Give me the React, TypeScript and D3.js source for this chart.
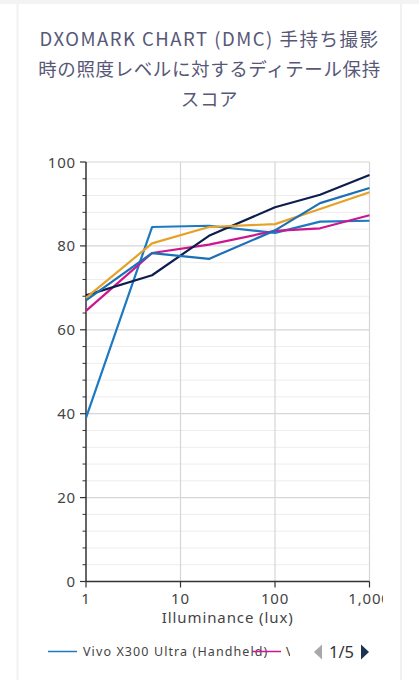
import * as d3 from "d3";

// illuminance steps (lux) and detail scores
const illuminance = [1, 5, 20, 100, 300, 1000];
// only the first legend entry is readable; the second one is cut to its first letter
const legendLabels = ["Vivo X300 Ultra (Handheld)", "V"];
const seriesColors = ["#1d79c1", "#cc1690", "#0d1d4e", "#e6a128", "#1a70b6"];
const scoresA = [39.0, 84.5, 84.8, 83.1, 85.8, 86.0];
const scoresB = [64.5, 78.3, 80.3, 83.6, 84.2, 87.3];
const scoresC = [68.2, 73.0, 82.4, 89.2, 92.2, 96.9];
const scoresD = [67.6, 80.6, 84.5, 85.2, 88.8, 92.8];
const scoresE = [67.0, 78.3, 76.9, 83.7, 90.2, 93.8];
const allScores = [scoresA, scoresB, scoresC, scoresD, scoresE];

const yTicks = [0, 20, 40, 60, 80, 100];
const xTicks = [1, 10, 100, 1000];
const titleLines = [
  "DXOMARK CHART (DMC) 手持ち撮影",
  "時の照度レベルに対するディテール保持",
  "スコア",
];

const W = 419;
const H = 680;
const plot = { left: 86, right: 369.5, top: 162, bottom: 581.5 };

export default function App() {
  const x = d3.scaleLog().domain([1, 1000]).range([plot.left, plot.right]);
  const y = d3.scaleLinear().domain([0, 100]).range([plot.bottom, plot.top]);
  const minor = d3.range(0, 101, 4).filter((v) => v % 20 !== 0);
  const line = d3
    .line<number>()
    .x((_, i) => x(illuminance[i]))
    .y((d) => y(d));
  const tickFont = "'Noto Sans', 'DejaVu Sans', sans-serif";

  return (
    <div style={{ position: "fixed", left: 0, top: 0, width: W, height: H, background: "#fff" }}>
      <svg width={W} height={H} style={{ display: "block" }}>
        <defs>
          <clipPath id="chartClip">
            <rect x={0} y={0} width={383} height={H} />
          </clipPath>
          <clipPath id="legendClip">
            <rect x={0} y={630} width={290} height={40} />
          </clipPath>
        </defs>
        {/* card */}
        <rect x={0} y={0} width={W} height={4} fill="#f3f3f3" />
        <rect x={16.5} y={4} width={2} height={H} fill="#f1f1f1" />
        <rect x={400} y={4} width={2} height={H} fill="#f1f1f1" />

        {titleLines.map((t, i) => (
          <text
            key={i}
            x={209.5}
            y={45.5 + i * 30}
            textAnchor="middle"
            fontSize={18.5}
            letterSpacing={i === 0 ? 1.5 : 0.6}
            fill="#575877"
            fontFamily="'Noto Sans CJK JP', 'Noto Sans', sans-serif"
          >
            {t}
          </text>
        ))}

        <g clipPath="url(#chartClip)">
          {minor.map((v) => (
            <g key={"m" + v}>
              <line x1={plot.left} x2={plot.right} y1={y(v)} y2={y(v)} stroke="#ededed" strokeWidth={1} />
              <line x1={plot.left - 3.5} x2={plot.left} y1={y(v)} y2={y(v)} stroke="#333" strokeWidth={1} />
            </g>
          ))}
          {yTicks.map((v) => (
            <g key={"y" + v}>
              {v > 0 && (
                <line x1={plot.left} x2={plot.right} y1={y(v)} y2={y(v)} stroke="#d6d6d6" strokeWidth={1.2} />
              )}
              <line x1={plot.left - 6} x2={plot.left} y1={y(v)} y2={y(v)} stroke="#333" strokeWidth={1.2} />
              <text
                x={plot.left - 10}
                y={y(v) + 5.5}
                textAnchor="end"
                fontSize={15}
                letterSpacing={0.8}
                fill="#444"
                fontFamily={tickFont}
              >
                {v}
              </text>
            </g>
          ))}
          {xTicks.map((v) => (
            <g key={"x" + v}>
              {v > 1 && (
                <line x1={x(v)} x2={x(v)} y1={plot.top} y2={plot.bottom} stroke="#d6d6d6" strokeWidth={1.2} />
              )}
              <line x1={x(v)} x2={x(v)} y1={plot.bottom} y2={plot.bottom + 6} stroke="#333" strokeWidth={1.2} />
              <text
                x={x(v)}
                y={plot.bottom + 22.5}
                textAnchor="middle"
                fontSize={15}
                letterSpacing={0.8}
                fill="#444"
                fontFamily={tickFont}
              >
                {d3.format(",")(v)}
              </text>
            </g>
          ))}
          <line x1={plot.left} x2={plot.left} y1={plot.top} y2={plot.bottom} stroke="#333" strokeWidth={1.5} />
          <line x1={plot.left} x2={plot.right} y1={plot.bottom} y2={plot.bottom} stroke="#333" strokeWidth={1.5} />

          {allScores.map((s, i) => (
            <path key={i} d={line(s) ?? ""} fill="none" stroke={seriesColors[i]} strokeWidth={2.2} strokeLinejoin="round" />
          ))}

          <text
            x={(plot.left + plot.right) / 2}
            y={623}
            textAnchor="middle"
            fontSize={15}
            letterSpacing={0.9}
            fill="#444"
            fontFamily={tickFont}
          >
            Illuminance (lux)
          </text>
        </g>

        {/* legend (first page, clipped) */}
        <g clipPath="url(#legendClip)" fontFamily={tickFont} fontSize={12.5} letterSpacing={1.1} fill="#444">
          <line x1={48} x2={77} y1={651.5} y2={651.5} stroke={seriesColors[0]} strokeWidth={1.5} />
          <text x={83} y={656}>{legendLabels[0]}</text>
          <line x1={252} x2={281} y1={651.5} y2={651.5} stroke={seriesColors[1]} strokeWidth={1.5} />
          <text x={286} y={656}>{legendLabels[1]}</text>
        </g>
        <path d="M314,652 L322,644.5 L322,659.5 Z" fill="#a8a8a8" />
        <text x={341.5} y={658} textAnchor="middle" fontSize={16.5} fill="#333" fontFamily={tickFont}>
          1/5
        </text>
        <path d="M369,652 L361,644.5 L361,659.5 Z" fill="#1b3550" />
      </svg>
    </div>
  );
}
